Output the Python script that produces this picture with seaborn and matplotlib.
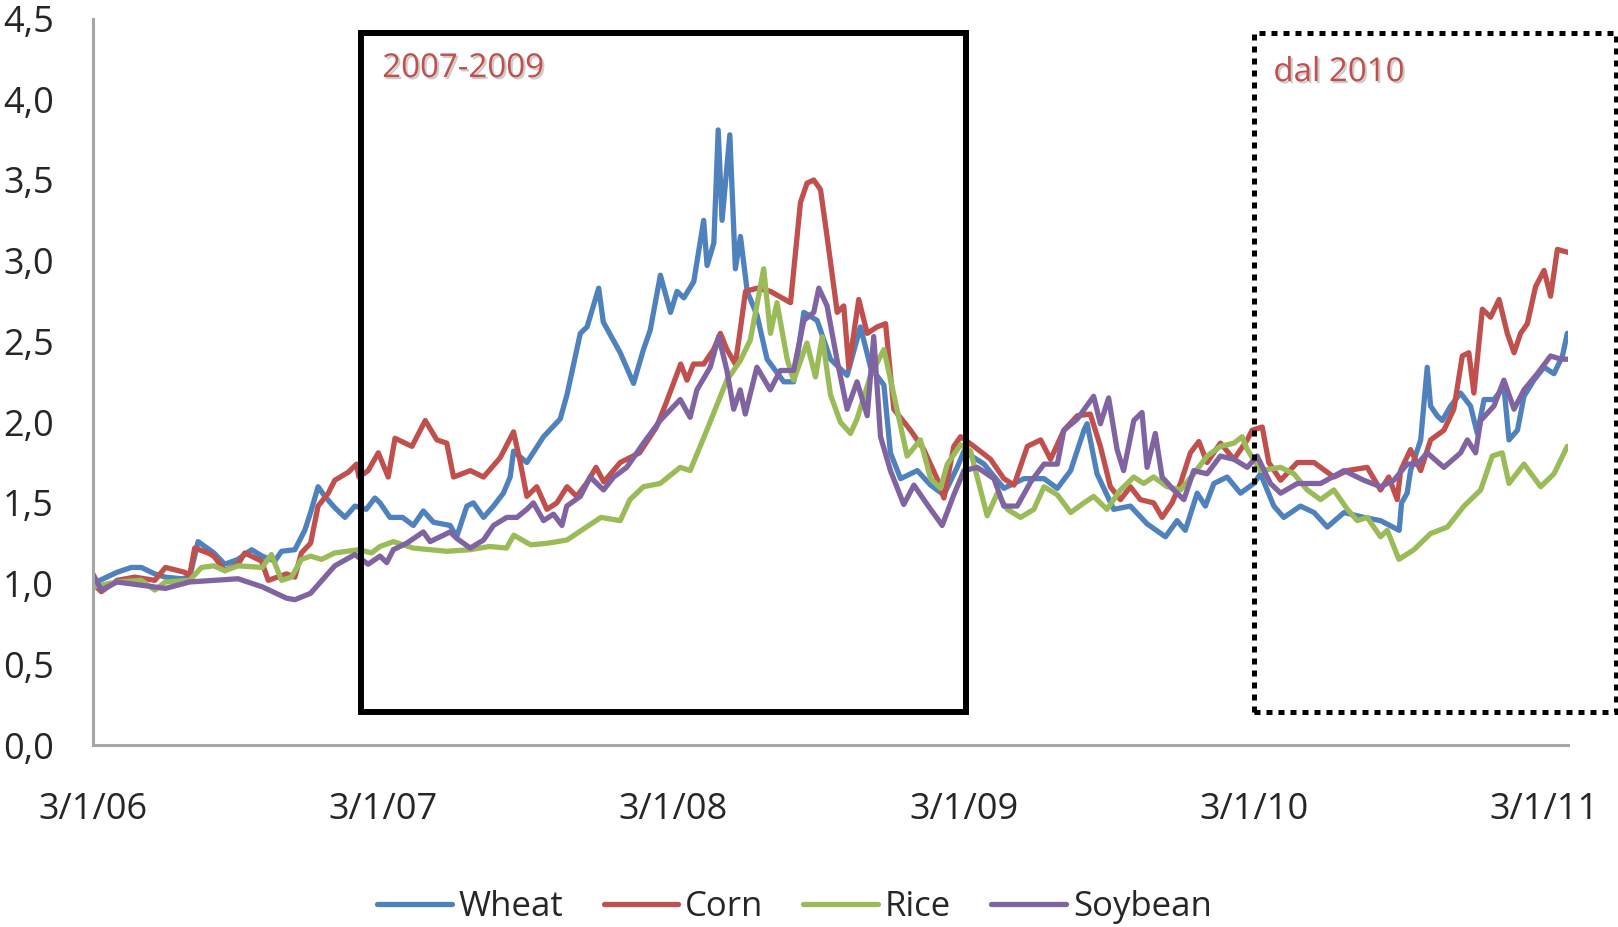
import numpy as np
import pandas as pd
import matplotlib
matplotlib.use("Agg")
import matplotlib.pyplot as plt
import matplotlib.dates as mdates
import matplotlib.patches as mpatches
import matplotlib.patheffects as pe
from matplotlib.lines import Line2D
import seaborn as sns

sns.set_style("white")
plt.rcParams["font.family"] = ["Open Sans", "DejaVu Sans"]

# ---------------- data (x = months since 3/1/06) ----------------
series_names = ["Wheat", "Corn", "Rice", "Soybean"]
series_colors = ["#4F81BD", "#C0504D", "#9BBB59", "#8064A2"]

wheat_m = [0.0, 1.0, 1.59, 2.0, 2.56, 3.0, 3.66, 4.0, 4.35, 5.0,
           5.45, 6.0, 6.56, 7.0, 7.52, 7.8, 8.35, 8.76, 9.0, 9.31,
           9.59, 10.0, 10.42, 10.83, 11.3, 11.66, 11.87, 12.28, 12.8, 13.25,
           13.66, 14.08, 14.77, 15.04, 15.46, 15.73, 16.15, 16.56, 16.97, 17.25,
           17.39, 17.94, 18.63, 19.32, 19.6, 20.15, 20.43, 20.91, 21.1, 21.8,
           22.35, 22.76, 23.04, 23.46, 23.88, 24.15, 24.43, 24.84, 25.25, 25.39,
           25.67, 25.85, 26.01, 26.33, 26.56, 26.77, 27.05, 27.46, 27.87, 28.56,
           28.97, 29.39, 29.94, 30.49, 31.18, 31.73, 32.15, 32.7, 32.97, 33.39,
           34.08, 34.63, 35.18, 35.73, 36.01, 36.84, 37.66, 38.49, 39.32, 39.87,
           40.42, 40.97, 41.1, 41.51, 42.2, 42.89, 43.58, 44.34, 44.82, 45.16,
           45.65, 45.99, 46.34, 46.89, 47.44, 47.99, 48.27, 48.82, 49.23, 49.92,
           50.48, 51.03, 51.72, 52.54, 53.23, 54.0, 54.1, 54.33, 54.47, 54.89,
           55.16, 55.3, 55.57, 55.78, 56.13, 56.54, 56.95, 57.23, 57.51, 57.92,
           58.33, 58.54, 58.89, 59.16, 59.57, 59.99, 60.4, 60.75, 60.95]
wheat_v = [1.00, 1.07, 1.10, 1.10, 1.06, 1.04, 1.03, 1.04, 1.26, 1.19,
           1.12, 1.15, 1.21, 1.17, 1.14, 1.20, 1.21, 1.33, 1.44, 1.60,
           1.54, 1.47, 1.41, 1.48, 1.46, 1.53, 1.50, 1.41, 1.41, 1.36,
           1.45, 1.38, 1.36, 1.29, 1.48, 1.50, 1.41, 1.48, 1.56, 1.66,
           1.82, 1.75, 1.91, 2.02, 2.17, 2.55, 2.59, 2.83, 2.62, 2.43,
           2.24, 2.45, 2.57, 2.91, 2.68, 2.81, 2.77, 2.87, 3.25, 2.97,
           3.11, 3.81, 3.25, 3.78, 2.95, 3.15, 2.81, 2.66, 2.39, 2.25,
           2.25, 2.68, 2.63, 2.39, 2.29, 2.59, 2.34, 2.23, 1.81, 1.65,
           1.70, 1.61, 1.55, 1.72, 1.82, 1.74, 1.59, 1.65, 1.65, 1.59,
           1.70, 1.95, 1.99, 1.68, 1.46, 1.48, 1.37, 1.29, 1.39, 1.33,
           1.56, 1.48, 1.62, 1.66, 1.56, 1.62, 1.68, 1.48, 1.41, 1.48,
           1.44, 1.35, 1.44, 1.41, 1.39, 1.33, 1.50, 1.56, 1.70, 1.89,
           2.34, 2.10, 2.04, 2.01, 2.10, 2.18, 2.10, 1.93, 2.14, 2.14,
           2.22, 1.89, 1.95, 2.16, 2.26, 2.34, 2.30, 2.41, 2.55]

corn_m = [0.0, 0.35, 1.0, 1.73, 2.56, 3.0, 3.8, 4.0, 4.21, 4.76,
          5.0, 5.45, 6.0, 6.28, 6.97, 7.25, 8.0, 8.35, 8.62, 9.0,
          9.31, 9.73, 10.0, 10.56, 10.9, 11.0, 11.38, 11.8, 12.21, 12.49,
          13.19, 13.74, 14.22, 14.63, 14.91, 15.6, 16.15, 16.84, 17.39, 17.67,
          17.94, 18.35, 18.77, 19.18, 19.6, 20.0, 20.4, 20.8, 21.12, 21.8,
          22.6, 23.3, 23.7, 24.3, 24.56, 24.83, 25.25, 25.66, 25.94, 26.21,
          26.56, 26.76, 26.98, 27.46, 28.01, 28.84, 29.25, 29.52, 29.8, 30.08,
          30.35, 30.77, 31.04, 31.25, 31.66, 32.01, 32.42, 32.77, 33.11, 33.8,
          34.35, 34.9, 35.18, 35.59, 35.87, 36.42, 37.11, 37.66, 38.08, 38.63,
          39.18, 39.59, 40.14, 40.7, 41.23, 41.65, 42.06, 42.48, 42.89, 43.3,
          43.85, 44.2, 44.61, 44.96, 45.37, 45.72, 46.06, 46.61, 47.17, 47.72,
          47.92, 48.34, 48.61, 49.1, 49.79, 50.48, 51.3, 51.86, 52.68, 53.23,
          53.57, 53.92, 54.06, 54.47, 54.89, 55.3, 55.85, 56.26, 56.61, 56.88,
          57.09, 57.44, 57.78, 58.13, 58.47, 58.75, 59.02, 59.3, 59.64, 59.99,
          60.26, 60.54, 61.02]
corn_v = [1.00, 0.95, 1.02, 1.04, 1.02, 1.10, 1.07, 1.05, 1.22, 1.19,
          1.17, 1.08, 1.12, 1.19, 1.14, 1.02, 1.06, 1.04, 1.19, 1.25,
          1.48, 1.56, 1.64, 1.69, 1.74, 1.66, 1.70, 1.81, 1.66, 1.90,
          1.85, 2.01, 1.89, 1.87, 1.66, 1.70, 1.66, 1.78, 1.94, 1.75,
          1.54, 1.60, 1.46, 1.50, 1.60, 1.54, 1.62, 1.72, 1.63, 1.75,
          1.81, 1.97, 2.12, 2.36, 2.26, 2.36, 2.36, 2.45, 2.55, 2.45,
          2.36, 2.57, 2.81, 2.83, 2.81, 2.74, 3.36, 3.48, 3.50, 3.44,
          3.15, 2.68, 2.72, 2.34, 2.76, 2.55, 2.59, 2.61, 2.08, 1.95,
          1.83, 1.65, 1.53, 1.85, 1.91, 1.85, 1.77, 1.65, 1.61, 1.85,
          1.89, 1.77, 1.95, 2.04, 2.05, 1.85, 1.60, 1.52, 1.60, 1.52,
          1.50, 1.41, 1.50, 1.62, 1.81, 1.88, 1.75, 1.87, 1.77, 1.89,
          1.95, 1.97, 1.75, 1.64, 1.75, 1.75, 1.66, 1.70, 1.72, 1.58,
          1.66, 1.52, 1.70, 1.83, 1.70, 1.89, 1.95, 2.08, 2.41, 2.43,
          2.18, 2.70, 2.65, 2.76, 2.55, 2.43, 2.55, 2.61, 2.84, 2.94,
          2.78, 3.07, 3.05]

rice_m = [0.0, 1.0, 2.0, 2.56, 3.0, 4.0, 4.49, 5.0, 5.45, 6.0,
          7.0, 7.38, 7.8, 8.21, 8.62, 9.0, 9.45, 10.0, 11.0, 11.52,
          11.87, 12.42, 13.25, 14.63, 15.6, 16.4, 17.1, 17.4, 18.1, 18.8,
          19.6, 20.1, 21.0, 21.8, 22.2, 22.76, 23.45, 24.28, 24.69, 25.38,
          25.94, 26.21, 26.76, 27.18, 27.73, 28.01, 28.28, 28.7, 28.97, 29.52,
          29.87, 30.15, 30.49, 30.9, 31.32, 31.59, 32.15, 32.7, 33.11, 33.66,
          34.21, 34.63, 35.04, 35.32, 35.87, 36.28, 36.97, 37.39, 37.8, 38.35,
          38.9, 39.32, 39.87, 40.42, 40.97, 41.37, 41.92, 42.48, 43.03, 43.44,
          43.85, 44.41, 44.96, 45.51, 46.06, 46.61, 47.17, 47.51, 47.72, 48.27,
          49.1, 49.65, 50.2, 50.75, 51.3, 51.86, 52.27, 52.68, 53.23, 53.51,
          53.99, 54.61, 55.3, 55.99, 56.68, 57.37, 57.85, 58.26, 58.54, 59.16,
          59.85, 60.4, 60.95]
rice_v = [0.98, 1.01, 1.02, 0.96, 1.01, 1.02, 1.10, 1.11, 1.08, 1.11,
          1.10, 1.18, 1.02, 1.04, 1.15, 1.17, 1.15, 1.19, 1.21, 1.19,
          1.23, 1.26, 1.22, 1.20, 1.21, 1.23, 1.22, 1.30, 1.24, 1.25,
          1.27, 1.32, 1.41, 1.39, 1.52, 1.60, 1.62, 1.72, 1.70, 1.95,
          2.16, 2.26, 2.38, 2.51, 2.95, 2.55, 2.74, 2.39, 2.26, 2.49,
          2.28, 2.53, 2.17, 2.00, 1.93, 2.02, 2.29, 2.45, 2.17, 1.79,
          1.89, 1.65, 1.59, 1.74, 1.86, 1.82, 1.42, 1.56, 1.46, 1.41,
          1.46, 1.60, 1.55, 1.44, 1.50, 1.54, 1.46, 1.58, 1.66, 1.62,
          1.66, 1.60, 1.58, 1.68, 1.79, 1.85, 1.87, 1.91, 1.83, 1.70,
          1.72, 1.68, 1.58, 1.52, 1.58, 1.46, 1.39, 1.41, 1.29, 1.33,
          1.15, 1.21, 1.31, 1.35, 1.48, 1.58, 1.79, 1.81, 1.62, 1.74,
          1.60, 1.68, 1.85]

soybean_m = [0.0, 0.35, 1.0, 2.0, 3.0, 4.0, 5.0, 6.0, 7.0, 8.0,
             8.35, 9.0, 10.0, 10.83, 11.38, 11.87, 12.15, 12.42, 12.97, 13.66,
             13.94, 14.77, 15.04, 15.6, 16.15, 16.56, 17.11, 17.53, 17.94, 18.21,
             18.63, 19.04, 19.39, 19.59, 20.15, 20.56, 21.11, 21.53, 22.07, 22.76,
             23.45, 24.28, 24.69, 24.97, 25.52, 25.87, 26.21, 26.49, 26.76, 26.97,
             27.45, 28.0, 28.42, 28.97, 29.39, 29.8, 30.01, 30.35, 30.77, 31.18,
             31.59, 32.01, 32.28, 32.56, 32.97, 33.52, 33.94, 34.49, 35.11, 35.59,
             36.01, 36.56, 37.25, 37.66, 38.21, 38.77, 39.32, 39.87, 40.14, 40.7,
             41.37, 41.65, 41.99, 42.34, 42.61, 43.03, 43.37, 43.58, 43.92, 44.2,
             44.68, 45.1, 45.51, 46.06, 46.61, 47.17, 47.72, 48.13, 48.68, 49.1,
             49.79, 50.75, 51.72, 52.54, 53.23, 53.78, 54.33, 54.75, 55.16, 55.85,
             56.54, 56.82, 57.16, 57.37, 57.92, 58.33, 58.75, 59.16, 59.71, 60.26,
             60.68, 61.02]
soybean_v = [1.06, 0.96, 1.01, 0.99, 0.97, 1.01, 1.02, 1.03, 0.98, 0.91,
             0.90, 0.94, 1.11, 1.18, 1.12, 1.17, 1.13, 1.21, 1.25, 1.32,
             1.26, 1.32, 1.28, 1.22, 1.27, 1.36, 1.41, 1.41, 1.46, 1.50,
             1.39, 1.43, 1.36, 1.48, 1.54, 1.66, 1.58, 1.66, 1.72, 1.87,
             2.01, 2.14, 2.03, 2.20, 2.34, 2.53, 2.32, 2.08, 2.20, 2.05,
             2.34, 2.20, 2.32, 2.32, 2.63, 2.68, 2.83, 2.72, 2.38, 2.08,
             2.25, 2.04, 2.53, 1.91, 1.70, 1.49, 1.61, 1.49, 1.36, 1.55,
             1.70, 1.72, 1.65, 1.48, 1.48, 1.63, 1.74, 1.74, 1.95, 2.02,
             2.16, 1.99, 2.15, 1.83, 1.70, 2.01, 2.06, 1.72, 1.93, 1.66,
             1.58, 1.52, 1.70, 1.68, 1.79, 1.77, 1.72, 1.79, 1.62, 1.56,
             1.62, 1.62, 1.70, 1.64, 1.60, 1.64, 1.74, 1.74, 1.81, 1.72,
             1.81, 1.89, 1.81, 2.01, 2.10, 2.26, 2.08, 2.20, 2.30, 2.41,
             2.39, 2.39]

x_end_month = 61.0
x_tick_dates = ["2006-01-03", "2007-01-03", "2008-01-03", "2009-01-03", "2010-01-03", "2011-01-03"]
x_tick_labels = ["3/1/06", "3/1/07", "3/1/08", "3/1/09", "3/1/10", "3/1/11"]
y_ticks = [0.0, 0.5, 1.0, 1.5, 2.0, 2.5, 3.0, 3.5, 4.0, 4.5]
y_tick_labels = ["0,0", "0,5", "1,0", "1,5", "2,0", "2,5", "3,0", "3,5", "4,0", "4,5"]

# annotation boxes: (start month, end month, low value, high value)
box_crisis = (11.09, 36.11, 0.204, 4.41)
box_recent = (47.98, 62.95, 0.204, 4.41)
label_crisis = ("2007-2009", 11.96, 4.19)
label_recent = ("dal 2010", 48.8, 4.165)

# ---------------- build ----------------
BASE = pd.Timestamp("2006-01-03")


def to_dates(months):
    return BASE + pd.to_timedelta(np.asarray(months, dtype=float) * 30.4375, unit="D")


def to_num(month):
    return mdates.date2num(to_dates([month])[0])


frames = []
for name, m, v in zip(series_names,
                      [wheat_m, corn_m, rice_m, soybean_m],
                      [wheat_v, corn_v, rice_v, soybean_v]):
    frames.append(pd.DataFrame({"date": to_dates(m), "value": v, "series": name}))
df = pd.concat(frames, ignore_index=True)

fig = plt.figure(figsize=(16.18, 9.27), dpi=100)
ax = fig.add_axes([0.0574, 0.1963, 0.912, 0.7837])

sns.lineplot(data=df, x="date", y="value", hue="series", hue_order=series_names,
             palette=dict(zip(series_names, series_colors)), estimator=None,
             sort=True, linewidth=3.8, legend=False, ax=ax)
for ln in ax.get_lines():
    ln.set_solid_joinstyle("round")

ax.set_ylim(0, 4.5)
ax.set_yticks(y_ticks)
ax.set_yticklabels(y_tick_labels)
ax.set_xlim(to_num(0.0), to_num(x_end_month))
ax.set_xticks(mdates.date2num(pd.to_datetime(x_tick_dates)))
ax.set_xticklabels(x_tick_labels)
ax.tick_params(axis="y", length=0, pad=28, labelsize=26, labelcolor="#262626")
ax.tick_params(axis="x", length=0, pad=34, labelsize=26, labelcolor="#262626")
ax.set_xlabel("")
ax.set_ylabel("")
ax.grid(False)
for s in ["top", "right"]:
    ax.spines[s].set_visible(False)
for s in ["left", "bottom"]:
    ax.spines[s].set_color("#a6a6a6")
    ax.spines[s].set_linewidth(2.2)

# boxes
for (m0, m1, y0, y1), ls, lw in [(box_crisis, "-", 4.3), (box_recent, (0, (1.2, 1.2)), 3.6)]:
    x0 = to_num(m0)
    x1 = to_num(m1)
    rect = mpatches.Rectangle((x0, y0), x1 - x0, y1 - y0, fill=False, edgecolor="black",
                              linewidth=lw, linestyle=ls, joinstyle="miter",
                              clip_on=False, zorder=5)
    ax.add_patch(rect)

for txt, m, y in [label_crisis, label_recent]:
    ax.text(to_num(m), y, txt, ha="left", va="center", fontsize=23.8, color="#C0504D",
            zorder=6,
            path_effects=[pe.SimplePatchShadow(offset=(1.5, -1.5), shadow_rgbFace="#9a9a9a", alpha=0.5),
                          pe.Normal()])

handles = [Line2D([0], [0], color=c, linewidth=3.8) for c in series_colors]
fig.legend(handles, series_names, loc="center", bbox_to_anchor=(0.491, 0.0216), ncol=4,
           frameon=False, fontsize=25, handlelength=2.15, handletextpad=0.2,
           columnspacing=1.15, borderpad=0, borderaxespad=0, labelcolor="#262626")

fig.savefig("out.png", dpi=100)
